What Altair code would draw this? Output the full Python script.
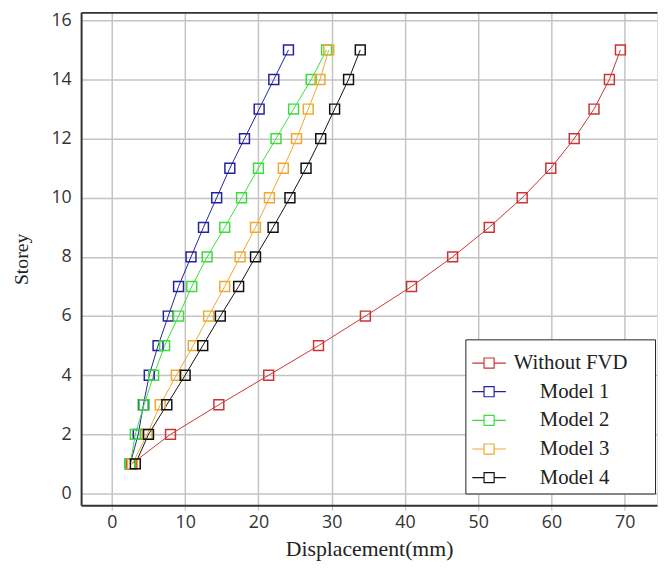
import altair as alt
import pandas as pd

storeys = list(range(1, 16))
series_names = ["Without FVD", "Model 1", "Model 2", "Model 3", "Model 4"]
series_colors = ["#cc3333", "#22229e", "#3cdc3c", "#f0a830", "#111111"]

without_fvd = [2.7, 8.0, 14.6, 21.4, 28.2, 34.6, 40.9, 46.5, 51.5, 56.0, 59.9, 63.1, 65.8, 67.9, 69.4]
model_1 = [2.5, 3.6, 4.3, 5.1, 6.3, 7.7, 9.1, 10.8, 12.5, 14.3, 16.1, 18.1, 20.1, 22.1, 24.1]
model_2 = [2.5, 3.2, 4.4, 5.7, 7.2, 9.1, 10.9, 13.0, 15.4, 17.7, 20.0, 22.4, 24.8, 27.2, 29.3]
model_3 = [2.8, 4.8, 6.6, 8.8, 11.1, 13.2, 15.4, 17.5, 19.6, 21.5, 23.4, 25.2, 26.8, 28.4, 29.6]
model_4 = [3.2, 5.0, 7.5, 10.0, 12.4, 14.8, 17.3, 19.6, 22.0, 24.3, 26.5, 28.5, 30.4, 32.3, 33.9]

x_ticks = [0, 10, 20, 30, 40, 50, 60, 70]
y_ticks = [0, 2, 4, 6, 8, 10, 12, 14, 16]

rows = []
for name, vals in zip(series_names, [without_fvd, model_1, model_2, model_3, model_4]):
    for s, v in zip(storeys, vals):
        rows.append({"series": name, "storey": s, "disp": v})
df = pd.DataFrame(rows)

NBSP = "\u00a0"
ZW = "\u200b"
label_expr = (
    "datum.label == 'Without FVD' ? 'Without FVD" + NBSP * 4 + ZW + "' : '"
    + ZW + NBSP * 5 + "' + datum.label"
)

color = alt.Color(
    "series:N",
    scale=alt.Scale(domain=series_names, range=series_colors),
    sort=series_names,
    legend=alt.Legend(
        title=None,
        orient="none",
        legendX=389,
        legendY=331,
        direction="vertical",
        fillColor="white",
        strokeColor="#222",
        padding=6,
        rowPadding=1,
        labelFont="Liberation Serif",
        labelFontSize=21,
        labelColor="#222",
        labelOffset=7,
        labelExpr=label_expr,
        symbolType="M-1,0H-0.3M0.3,0H1M-0.3,-0.3H0.3V0.3H-0.3Z",
        symbolSize=1156,
        symbolStrokeWidth=1.2,
        symbolFillColor="transparent",
    ),
)

x_scale = alt.Scale(domain=[-4.2, 74.4], nice=False, zero=False)
y_scale = alt.Scale(domain=[-0.4, 16.27], nice=False, zero=False)

lines = alt.Chart(df).mark_line(strokeWidth=1).encode(
    x=alt.X(
        "disp:Q",
        scale=x_scale,
        axis=alt.Axis(
            values=x_ticks,
            title="Displacement(mm)",
            titleFont="Liberation Serif",
            titleFontSize=22,
            titleFontWeight="normal",
            titleColor="#222",
            titlePadding=8,
            labelFont="Open Sans",
            labelFontSize=18,
            labelColor="#333",
            labelPadding=3,
            tickSize=5,
            tickColor="#bbbbbb",
            domainColor="#333",
            domainWidth=2,
            gridColor="#c4c4c4",
            gridWidth=1.5,
        ),
    ),
    y=alt.Y(
        "storey:Q",
        scale=y_scale,
        axis=alt.Axis(
            values=y_ticks,
            title="Storey",
            titleFont="Liberation Serif",
            titleFontSize=20,
            titleFontWeight="normal",
            titleColor="#222",
            titlePadding=20,
            labelFont="Open Sans",
            labelFontSize=18,
            labelColor="#333",
            labelPadding=10,
            ticks=False,
            domainColor="#333",
            domainWidth=2,
            gridColor="#c4c4c4",
            gridWidth=1.5,
        ),
    ),
    color=color,
    order=alt.Order("storey:Q"),
    detail="series:N",
)

points = alt.Chart(df).mark_point(shape="square", filled=False, size=100, strokeWidth=1.5, opacity=1).encode(
    x=alt.X(
        "disp:Q",
        scale=x_scale,
        axis=alt.Axis(orient="top", labels=False, ticks=False, grid=False, title=None,
                      domainColor="#333", domainWidth=2, minExtent=0, maxExtent=0),
    ),
    y=alt.Y("storey:Q", scale=y_scale),
    color=color,
)

chart = (
    alt.layer(lines, points)
    .resolve_axis(x="independent")
    .properties(
        width=583,
        height=499,
        autosize=alt.AutoSizeParams(type="none"),
        padding={"left": 74, "top": 1, "right": 2, "bottom": 58},
    )
    .configure_view(stroke=None)
    .configure(background="white")
)

chart.save("out.html", embed_options={"renderer": "svg", "actions": False})
